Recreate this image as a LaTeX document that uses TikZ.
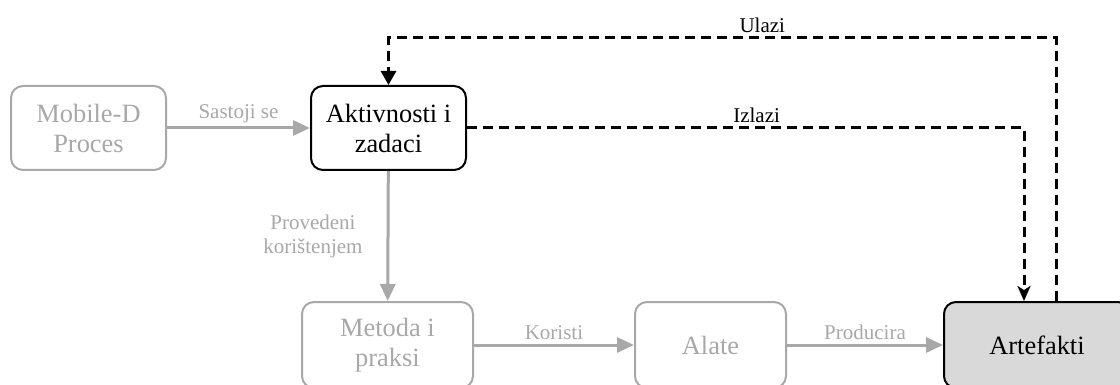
\documentclass[tikz,border=0pt]{standalone}
\usepackage{fontspec}
\setmainfont{Liberation Serif}
\usepackage{xcolor}
\usetikzlibrary{positioning, arrows.meta}

\definecolor{fadedgray}{HTML}{A8A8A8}
\definecolor{artefill}{HTML}{D9D9D9}

\begin{document}
\begin{tikzpicture}[
    x=0.5pt, y=-0.5pt,
    box/.style={draw, rounded corners=6pt, line width=1pt, align=center, inner sep=0pt,
                minimum width=77.5pt, minimum height=42pt, font=\fontsize{13.2}{15}\selectfont},
    faded/.style={box, draw=fadedgray, text=fadedgray},
    flow/.style={draw=fadedgray, line width=1.5pt, -{Triangle[length=8.5pt, width=7.5pt]}},
    link/.style={draw=black, line width=1.5pt, dash pattern=on 5pt off 3pt},
    lbl/.style={font=\fontsize{10.5}{12}\selectfont, align=center, inner sep=2pt}
]
\useasboundingbox (0,0) rectangle (1120,385);

% top row
\node[faded] (mobiled) at (88.5,128) {Mobile-D\\Proces};
\node[box] (aktiv) at (388.5,128) {Aktivnosti i\\zadaci};

% bottom row
\node[faded, minimum width=85.5pt, minimum height=43pt] (metoda) at (387.5,345) {Metoda i\\praksi};
\node[faded, minimum width=75.5pt, minimum height=43pt] (alate) at (710.5,345) {Alate};
\node[box, fill=artefill, minimum width=93pt, minimum height=43pt] (artef) at (1037,345) {Artefakti};

% gray flow
\draw[flow] (mobiled) -- node[lbl, above, text=fadedgray] {Sastoji se} (aktiv);
\draw[flow] (aktiv) -- node[lbl, left=10pt, text=fadedgray] {Provedeni\\korištenjem} (metoda);
\draw[flow] (metoda) -- node[lbl, above, text=fadedgray] {Koristi} (alate);
\draw[flow] (alate) -- node[lbl, above, text=fadedgray] {Producira} (artef);

% dashed in/out
\coordinate (vrh) at (0,38);
\coordinate (ulazi) at ([xshift=9.5pt]artef.north);
\coordinate (izlazi) at ([xshift=-6.5pt]artef.north);
\draw[link, -{Triangle[length=7pt, width=7.5pt]}] (ulazi) -- (ulazi |- vrh)
    -| node[lbl, pos=0.22, above] {Ulazi} (aktiv.north);
\draw[link, -{Stealth[length=7.5pt, width=6.5pt, inset=2pt]}] (aktiv.east)
    -| node[lbl, pos=0.26, above] {Izlazi} (izlazi);
\end{tikzpicture}
\end{document}
